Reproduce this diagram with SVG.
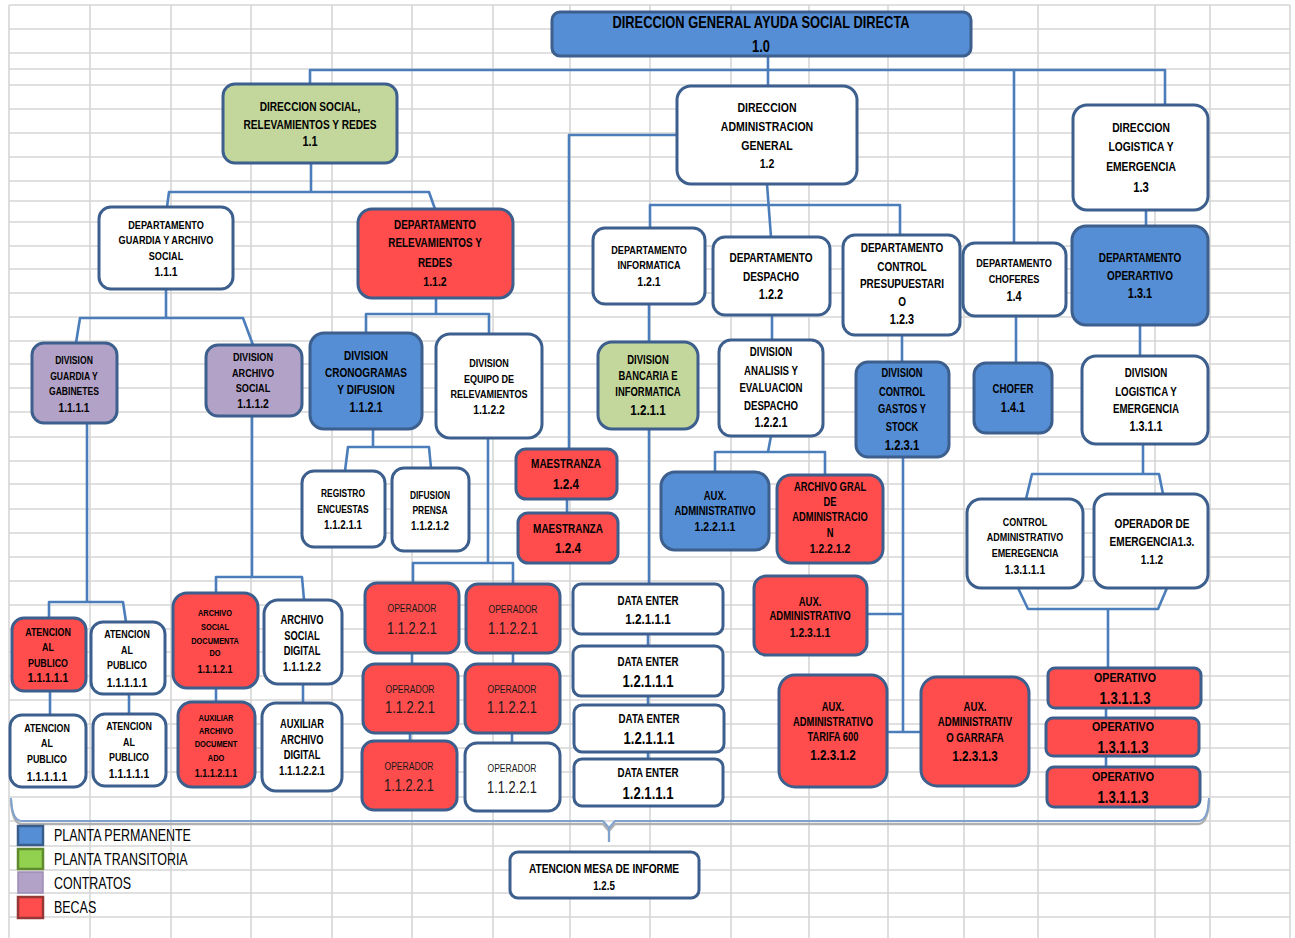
<svg xmlns="http://www.w3.org/2000/svg" width="1295" height="938" viewBox="0 0 1295 938">
<style>
.grid{stroke:#d6d6d6;stroke-width:1.6;fill:none}
.box{stroke:#3c5f8d;stroke-width:3}
.w{fill:#ffffff}.b{fill:#558ed5}.g{fill:#c3d69b}.p{fill:#b3a2c7}.r{fill:#ff4d4d}
.conn path{fill:none;stroke:#4a7dba;stroke-width:2.6;stroke-linejoin:round}
text{font-family:"Liberation Sans",Arial,sans-serif;font-weight:bold;text-anchor:middle;dominant-baseline:central;fill:#000}
.lt{font-weight:normal;fill:#1a1a1a}
.lg{font-weight:normal;text-anchor:start;font-size:16px}
</style>
<rect width="1295" height="938" fill="#ffffff"/>
<path class="grid" d="M9 5V938M90 5V938M171 5V938M251 5V938M332 5V938M412 5V938M493 5V938M570 5V938M650 5V938M731 5V938M809 5V938M888 5V938M964 5V938M1038 5V938M1155 5V938M1210 5V938M1290 5V938
M9 5H1290M9 29H1290M9 53H1290M9 69H1290M9 85H1290M9 109H1290M9 133H1290M9 157H1290M9 181H1290M9 201H1290M9 222H1290M9 246H1290M9 269H1290M9 293H1290M9 317H1290M9 341H1290M9 364H1290M9 388H1290M9 412H1290M9 437H1290M9 461H1290M9 484H1290M9 509H1290M9 533H1290M9 557H1290M9 581H1290M9 605H1290M9 629H1290M9 652H1290M9 676H1290M9 700H1290M9 724H1290M9 748H1290M9 772H1290M9 797H1290M9 821H1290M9 846H1290M9 870H1290M9 893H1290M9 917H1290"/>

<g id="connectors" class="conn">
<path d="M768 56V86"/>
<path d="M310 84V70H1165V105"/>
<path d="M1014 70V243"/>
<path d="M677 135H569V449"/>
<path d="M567 499V513"/>
<path d="M311 163V192"/><path d="M167 207L169 192H429L435 209"/>
<path d="M166 289V318"/><path d="M76 343L80 318H243L253 345"/>
<path d="M436 298V314"/><path d="M366 333V314H489V334"/>
<path d="M767 184L771 237"/>
<path d="M650 228V205H900V235"/>
<path d="M1146 210V226"/>
<path d="M649 304V342"/>
<path d="M772 315V340"/>
<path d="M902 335V362"/>
<path d="M1016 316V363"/>
<path d="M1140 325V356"/>
<path d="M87 423V602"/><path d="M49 618V602H123L126 622"/>
<path d="M252 416V577"/><path d="M216 593V577H302L304 600"/>
<path d="M373 429V447"/><path d="M345 471L348 447H429L431 468"/>
<path d="M488 438V563"/><path d="M413 583V563H513V584"/>
<path d="M771 436L768 452"/><path d="M715 472V452H825V475"/>
<path d="M1143 444V474"/><path d="M1026 499L1032 474H1159L1163 494"/>
<path d="M1018 588L1028 609H1158L1167 588"/><path d="M1108 609V668"/>
<path d="M649 429V584"/><path d="M648 634V646"/><path d="M648 696V705"/><path d="M648 752V759"/>
<path d="M50 691V715"/><path d="M129 694V714"/>
<path d="M216 688V702"/><path d="M303 684V703"/>
<path d="M412 653V664"/><path d="M410 733V741"/><path d="M513 653V664"/><path d="M512 733V743"/>
<path d="M903 457V732"/><path d="M867 614H903"/><path d="M887 732H921"/>
<path d="M1106 708V718"/><path d="M1106 756V767"/>
<path d="M11 800Q12 824 22 824H603L609 831L615 824H1198Q1208 824 1209 800M609 831V842" style="stroke:#b0b0b0;stroke-width:2.4"/>
<path d="M11 798Q12 821 22 821H603L609 828L615 821H1198Q1208 821 1209 798M609 828V842" style="stroke:#7fa2cf;stroke-width:2"/>
</g>

<g id="n10"><rect class="box b" x="552" y="12" width="419" height="44" rx="8"/>
<g transform="translate(761 0) scale(.78 1)" font-size="16.5"><text y="22" fill="#1c1c1c">DIRECCION GENERAL AYUDA SOCIAL DIRECTA</text><text y="46" fill="#1c1c1c">1.0</text></g></g>

<g id="n11"><rect class="box g" x="223" y="84" width="174" height="79" rx="12"/>
<g transform="translate(310 0) scale(.78 1)" font-size="13"><text y="106">DIRECCION SOCIAL,</text><text y="124">RELEVAMIENTOS Y REDES</text><text y="142" font-size="14">1.1</text></g></g>

<g id="n12"><rect class="box w" x="677" y="86" width="180" height="98" rx="14"/>
<g transform="translate(767 0) scale(.78 1)" font-size="13.5"><text y="108">DIRECCION</text><text y="127">ADMINISTRACION</text><text y="146">GENERAL</text><text y="164">1.2</text></g></g>

<g id="n13"><rect class="box w" x="1073" y="105" width="135" height="105" rx="14"/>
<g transform="translate(1141 0) scale(.78 1)" font-size="13.2"><text y="128">DIRECCION</text><text y="147">LOGISTICA  Y</text><text y="167">EMERGENCIA</text><text y="187" font-size="14.5">1.3</text></g></g>

<g id="n111"><rect class="box w" x="99" y="207" width="134" height="82" rx="12"/>
<g transform="translate(166 0) scale(.78 1)" font-size="11.7"><text y="225">DEPARTAMENTO</text><text y="240">GUARDIA Y ARCHIVO</text><text y="256">SOCIAL</text><text y="272" font-size="13.3">1.1.1</text></g></g>

<g id="n112"><rect class="box r" x="358" y="209" width="155" height="89" rx="14"/>
<g transform="translate(435 0) scale(.78 1)" font-size="12.7"><text y="225">DEPARTAMENTO</text><text y="243">RELEVAMIENTOS Y</text><text y="263">REDES</text><text y="282" font-size="13.5">1.1.2</text></g></g>

<g id="n121"><rect class="box w" x="593" y="228" width="112" height="76" rx="12"/>
<g transform="translate(649 0) scale(.78 1)" font-size="11.7"><text y="250">DEPARTAMENTO</text><text y="265">INFORMATICA</text><text y="282" font-size="13.5">1.2.1</text></g></g>

<g id="n122"><rect class="box w" x="713" y="237" width="117" height="78" rx="12"/>
<g transform="translate(771 0) scale(.78 1)" font-size="12.9"><text y="258">DEPARTAMENTO</text><text y="277">DESPACHO</text><text y="295" font-size="14">1.2.2</text></g></g>

<g id="n123"><rect class="box w" x="843" y="235" width="117" height="100" rx="12"/>
<g transform="translate(902 0) scale(.78 1)" font-size="12.8"><text y="248">DEPARTAMENTO</text><text y="267">CONTROL</text><text y="284">PRESUPUESTARI</text><text y="302">O</text><text y="320" font-size="14">1.2.3</text></g></g>

<g id="n14"><rect class="box w" x="963" y="243" width="103" height="73" rx="12"/>
<g transform="translate(1014 0) scale(.78 1)" font-size="11.7"><text y="263">DEPARTAMENTO</text><text y="279">CHOFERES</text><text y="297" font-size="14">1.4</text></g></g>

<g id="n131"><rect class="box b" x="1072" y="226" width="136" height="99" rx="14"/>
<g transform="translate(1140 0) scale(.78 1)" font-size="12.8"><text y="258">DEPARTAMENTO</text><text y="276">OPERARTIVO</text><text y="294" font-size="14">1.3.1</text></g></g>

<g id="n1111"><rect class="box p" x="32" y="343" width="85" height="80" rx="12"/>
<g transform="translate(74 0) scale(.78 1)" font-size="11"><text y="360">DIVISION</text><text y="376">GUARDIA Y</text><text y="391">GABINETES</text><text y="407" font-size="13">1.1.1.1</text></g></g>

<g id="n1112"><rect class="box p" x="206" y="345" width="96" height="71" rx="12"/>
<g transform="translate(253 0) scale(.78 1)" font-size="11.7"><text y="357">DIVISION</text><text y="373">ARCHIVO</text><text y="388">SOCIAL</text><text y="404" font-size="13.3">1.1.1.2</text></g></g>

<g id="n1121"><rect class="box b" x="310" y="333" width="112" height="96" rx="14"/>
<g transform="translate(366 0) scale(.78 1)" font-size="12.9"><text y="356">DIVISION</text><text y="373">CRONOGRAMAS</text><text y="390">Y DIFUSION</text><text y="408" font-size="13.8">1.1.2.1</text></g></g>

<g id="n1122"><rect class="box w" x="436" y="334" width="106" height="104" rx="14"/>
<g transform="translate(489 0) scale(.78 1)" font-size="11.6"><text y="363">DIVISION</text><text y="379">EQUIPO DE</text><text y="394">RELEVAMIENTOS</text><text y="410" font-size="13.3">1.1.2.2</text></g></g>

<g id="n1211"><rect class="box g" x="598" y="342" width="100" height="87" rx="14"/>
<g transform="translate(648 0) scale(.78 1)" font-size="12.1"><text y="360">DIVISION</text><text y="376">BANCARIA E</text><text y="392">INFORMATICA</text><text y="410" font-size="15">1.2.1.1</text></g></g>

<g id="n1221"><rect class="box w" x="719" y="340" width="104" height="96" rx="12"/>
<g transform="translate(771 0) scale(.78 1)" font-size="12.4"><text y="352">DIVISION</text><text y="371">ANALISIS Y</text><text y="388">EVALUACION</text><text y="406">DESPACHO</text><text y="423" font-size="13.8">1.2.2.1</text></g></g>

<g id="n1231"><rect class="box b" x="856" y="362" width="93" height="95" rx="12"/>
<g transform="translate(902 0) scale(.78 1)" font-size="12"><text y="373">DIVISION</text><text y="392">CONTROL</text><text y="409">GASTOS Y</text><text y="427">STOCK</text><text y="445" font-size="14.5">1.2.3.1</text></g></g>

<g id="n141"><rect class="box b" x="974" y="363" width="78" height="70" rx="12"/>
<g transform="translate(1013 0) scale(.78 1)" font-size="12.4"><text y="389">CHOFER</text><text y="408" font-size="14">1.4.1</text></g></g>

<g id="n1311"><rect class="box w" x="1082" y="356" width="126" height="88" rx="14"/>
<g transform="translate(1146 0) scale(.78 1)" font-size="12.5"><text y="373">DIVISION</text><text y="392">LOGISTICA Y</text><text y="409">EMERGENCIA</text><text y="427" font-size="13.8">1.3.1.1</text></g></g>

<g id="n11211"><rect class="box w" x="302" y="471" width="83" height="76" rx="12"/>
<g transform="translate(343 0) scale(.78 1)" font-size="10.8"><text y="493">REGISTRO</text><text y="509">ENCUESTAS</text><text y="525" font-size="12.5">1.1.2.1.1</text></g></g>

<g id="n11212"><rect class="box w" x="392" y="468" width="77" height="83" rx="12"/>
<g transform="translate(430 0) scale(.78 1)" font-size="10.8"><text y="495">DIFUSION</text><text y="510">PRENSA</text><text y="526" font-size="12.5">1.1.2.1.2</text></g></g>

<g id="n124a"><rect class="box r" x="516" y="449" width="101" height="50" rx="10"/>
<g transform="translate(566 0) scale(.78 1)" font-size="12.8"><text y="464">MAESTRANZA</text><text y="484" font-size="15">1.2.4</text></g></g>

<g id="n124b"><rect class="box r" x="518" y="513" width="100" height="50" rx="10"/>
<g transform="translate(568 0) scale(.78 1)" font-size="12.8"><text y="529">MAESTRANZA</text><text y="548" font-size="15">1.2.4</text></g></g>

<g id="n12211"><rect class="box b" x="661" y="472" width="108" height="78" rx="14"/>
<g transform="translate(715 0) scale(.78 1)" font-size="12.2"><text y="496">AUX.</text><text y="511">ADMINISTRATIVO</text><text y="527" font-size="13.5">1.2.2.1.1</text></g></g>

<g id="n12212"><rect class="box r" x="777" y="475" width="106" height="88" rx="14"/>
<g transform="translate(830 0) scale(.78 1)" font-size="12"><text y="487">ARCHIVO GRAL</text><text y="502">DE</text><text y="517">ADMINISTRACIO</text><text y="533">N</text><text y="549" font-size="13.3">1.2.2.1.2</text></g></g>

<g id="n13111"><rect class="box w" x="967" y="499" width="116" height="89" rx="14"/>
<g transform="translate(1025 0) scale(.78 1)" font-size="11.5"><text y="522">CONTROL</text><text y="537">ADMINISTRATIVO</text><text y="553">EMEREGENCIA</text><text y="570" font-size="13.3">1.3.1.1.1</text></g></g>

<g id="n13112"><rect class="box w" x="1094" y="494" width="114" height="94" rx="14"/>
<g transform="translate(1152 0) scale(.78 1)" font-size="12.9"><text y="524">OPERADOR DE</text><text y="542">EMERGENCIA1.3.</text><text y="560">1.1.2</text></g></g>

<g id="n11111a"><rect class="box r" x="12" y="618" width="74" height="73" rx="12"/>
<g transform="translate(48 0) scale(.78 1)" font-size="11.4"><text y="632">ATENCION</text><text y="647">AL</text><text y="663">PUBLICO</text><text y="678" font-size="13.3">1.1.1.1.1</text></g></g>

<g id="n11111b"><rect class="box w" x="91" y="622" width="74" height="72" rx="12"/>
<g transform="translate(127 0) scale(.78 1)" font-size="11.4"><text y="634">ATENCION</text><text y="650">AL</text><text y="665">PUBLICO</text><text y="683" font-size="13.3">1.1.1.1.1</text></g></g>

<g id="n11111c"><rect class="box w" x="10" y="715" width="76" height="72" rx="12"/>
<g transform="translate(47 0) scale(.78 1)" font-size="11.4"><text y="728">ATENCION</text><text y="743">AL</text><text y="759">PUBLICO</text><text y="777" font-size="13.3">1.1.1.1.1</text></g></g>

<g id="n11111d"><rect class="box w" x="93" y="714" width="73" height="72" rx="12"/>
<g transform="translate(129 0) scale(.78 1)" font-size="11.4"><text y="726">ATENCION</text><text y="742">AL</text><text y="757">PUBLICO</text><text y="774" font-size="13.3">1.1.1.1.1</text></g></g>

<g id="n11121"><rect class="box r" x="173" y="593" width="85" height="95" rx="14"/>
<g transform="translate(215 0) scale(.78 1)" font-size="9.5"><text y="613">ARCHIVO</text><text y="627">SOCIAL</text><text y="641">DOCUMENTA</text><text y="653">DO</text><text y="669" font-size="11.5">1.1.1.2.1</text></g></g>

<g id="n11122"><rect class="box w" x="264" y="600" width="78" height="84" rx="14"/>
<g transform="translate(302 0) scale(.78 1)" font-size="12"><text y="620">ARCHIVO</text><text y="636">SOCIAL</text><text y="651">DIGITAL</text><text y="667" font-size="12.5">1.1.1.2.2</text></g></g>

<g id="n111211"><rect class="box r" x="178" y="702" width="77" height="85" rx="14"/>
<g transform="translate(216 0) scale(.78 1)" font-size="9.5"><text y="718">AUXILIAR</text><text y="731">ARCHIVO</text><text y="744">DOCUMENT</text><text y="758">ADO</text><text y="773" font-size="11.5">1.1.1.2.1.1</text></g></g>

<g id="n111221"><rect class="box w" x="262" y="703" width="80" height="88" rx="14"/>
<g transform="translate(302 0) scale(.78 1)" font-size="12"><text y="724">AUXILIAR</text><text y="740">ARCHIVO</text><text y="755">DIGITAL</text><text y="771" font-size="12.5">1.1.1.2.2.1</text></g></g>

<g id="op1"><rect class="box r" x="365" y="583" width="94" height="70" rx="12"/>
<g transform="translate(412 0) scale(.78 1)" class="lt" font-size="11"><text class="lt" y="608">OPERADOR</text><text class="lt" y="628" font-size="16.5">1.1.2.2.1</text></g></g>
<g id="op2"><rect class="box r" x="363" y="664" width="95" height="69" rx="12"/>
<g transform="translate(410 0) scale(.78 1)" font-size="11"><text class="lt" y="689">OPERADOR</text><text class="lt" y="707" font-size="16.5">1.1.2.2.1</text></g></g>
<g id="op3"><rect class="box r" x="362" y="741" width="95" height="69" rx="12"/>
<g transform="translate(409 0) scale(.78 1)" font-size="11"><text class="lt" y="766">OPERADOR</text><text class="lt" y="785" font-size="16.5">1.1.2.2.1</text></g></g>
<g id="op4"><rect class="box r" x="466" y="584" width="94" height="69" rx="12"/>
<g transform="translate(513 0) scale(.78 1)" font-size="11"><text class="lt" y="609">OPERADOR</text><text class="lt" y="628" font-size="16.5">1.1.2.2.1</text></g></g>
<g id="op5"><rect class="box r" x="465" y="664" width="95" height="69" rx="12"/>
<g transform="translate(512 0) scale(.78 1)" font-size="11"><text class="lt" y="689">OPERADOR</text><text class="lt" y="707" font-size="16.5">1.1.2.2.1</text></g></g>
<g id="op6"><rect class="box w" x="465" y="743" width="95" height="68" rx="12"/>
<g transform="translate(512 0) scale(.78 1)" font-size="11"><text class="lt" y="768">OPERADOR</text><text class="lt" y="787" font-size="16.5">1.1.2.2.1</text></g></g>

<g id="de1"><rect class="box w" x="573" y="584" width="150" height="50" rx="8"/>
<g transform="translate(648 0) scale(.78 1)" font-size="12.5"><text y="601">DATA ENTER</text><text y="619" font-size="15">1.2.1.1.1</text></g></g>
<g id="de2"><rect class="box w" x="573" y="646" width="150" height="50" rx="8"/>
<g transform="translate(648 0) scale(.78 1)" font-size="12.5"><text y="662">DATA ENTER</text><text y="681" font-size="16.8">1.2.1.1.1</text></g></g>
<g id="de3"><rect class="box w" x="574" y="705" width="150" height="47" rx="8"/>
<g transform="translate(649 0) scale(.78 1)" font-size="12.5"><text y="719">DATA ENTER</text><text y="738" font-size="16.8">1.2.1.1.1</text></g></g>
<g id="de4"><rect class="box w" x="574" y="759" width="149" height="47" rx="8"/>
<g transform="translate(648 0) scale(.78 1)" font-size="12.5"><text y="773">DATA ENTER</text><text y="793" font-size="16.8">1.2.1.1.1</text></g></g>

<g id="n12311"><rect class="box r" x="754" y="576" width="113" height="79" rx="12"/>
<g transform="translate(810 0) scale(.78 1)" font-size="12.2"><text y="602">AUX.</text><text y="616">ADMINISTRATIVO</text><text y="633" font-size="13.3">1.2.3.1.1</text></g></g>

<g id="n12312"><rect class="box r" x="779" y="675" width="108" height="112" rx="16"/>
<g transform="translate(833 0) scale(.78 1)" font-size="12"><text y="707">AUX.</text><text y="722">ADMINISTRATIVO</text><text y="737">TARIFA 600</text><text y="755" font-size="15">1.2.3.1.2</text></g></g>

<g id="n12313"><rect class="box r" x="921" y="677" width="108" height="109" rx="16"/>
<g transform="translate(975 0) scale(.78 1)" font-size="12.3"><text y="707">AUX.</text><text y="722">ADMINISTRATIV</text><text y="738">O GARRAFA</text><text y="756" font-size="15">1.2.3.1.3</text></g></g>

<g id="n13113a"><rect class="box r" x="1048" y="668" width="153" height="40" rx="7"/>
<g transform="translate(1125 0) scale(.78 1)" font-size="13.7"><text y="678">OPERATIVO</text><text y="698" font-size="16.8">1.3.1.1.3</text></g></g>
<g id="n13113b"><rect class="box r" x="1046" y="718" width="153" height="38" rx="7"/>
<g transform="translate(1123 0) scale(.78 1)" font-size="13.7"><text y="727">OPERATIVO</text><text y="747" font-size="16.8">1.3.1.1.3</text></g></g>
<g id="n13113c"><rect class="box r" x="1047" y="767" width="153" height="40" rx="7"/>
<g transform="translate(1123 0) scale(.78 1)" font-size="13.7"><text y="777">OPERATIVO</text><text y="797" font-size="16.8">1.3.1.1.3</text></g></g>

<g id="n125"><rect class="box w" x="510" y="852" width="189" height="46" rx="8"/>
<g transform="translate(604 0) scale(.78 1)" font-size="13"><text y="868">ATENCION MESA DE INFORME</text><text y="886" font-size="12.5">1.2.5</text></g></g>

<g id="legend">
<rect x="18" y="826" width="25" height="19" fill="#558ed5" stroke="#385d8a" stroke-width="2.5"/>
<rect x="18" y="849" width="25" height="20" fill="#92d050" stroke="#5f8a2e" stroke-width="2.5"/>
<rect x="18" y="872" width="25" height="21" fill="#b3a2c7" stroke="#9c8bb5" stroke-width="1.5"/>
<rect x="18" y="897" width="25" height="21" fill="#ff4d4d" stroke="#953735" stroke-width="2.5"/>
<g transform="translate(54 0) scale(.78 1)">
<text class="lg" x="0" y="835">PLANTA PERMANENTE</text>
<text class="lg" x="0" y="859">PLANTA TRANSITORIA</text>
<text class="lg" x="0" y="883">CONTRATOS</text>
<text class="lg" x="0" y="907">BECAS</text>
</g>
</g>
</svg>
